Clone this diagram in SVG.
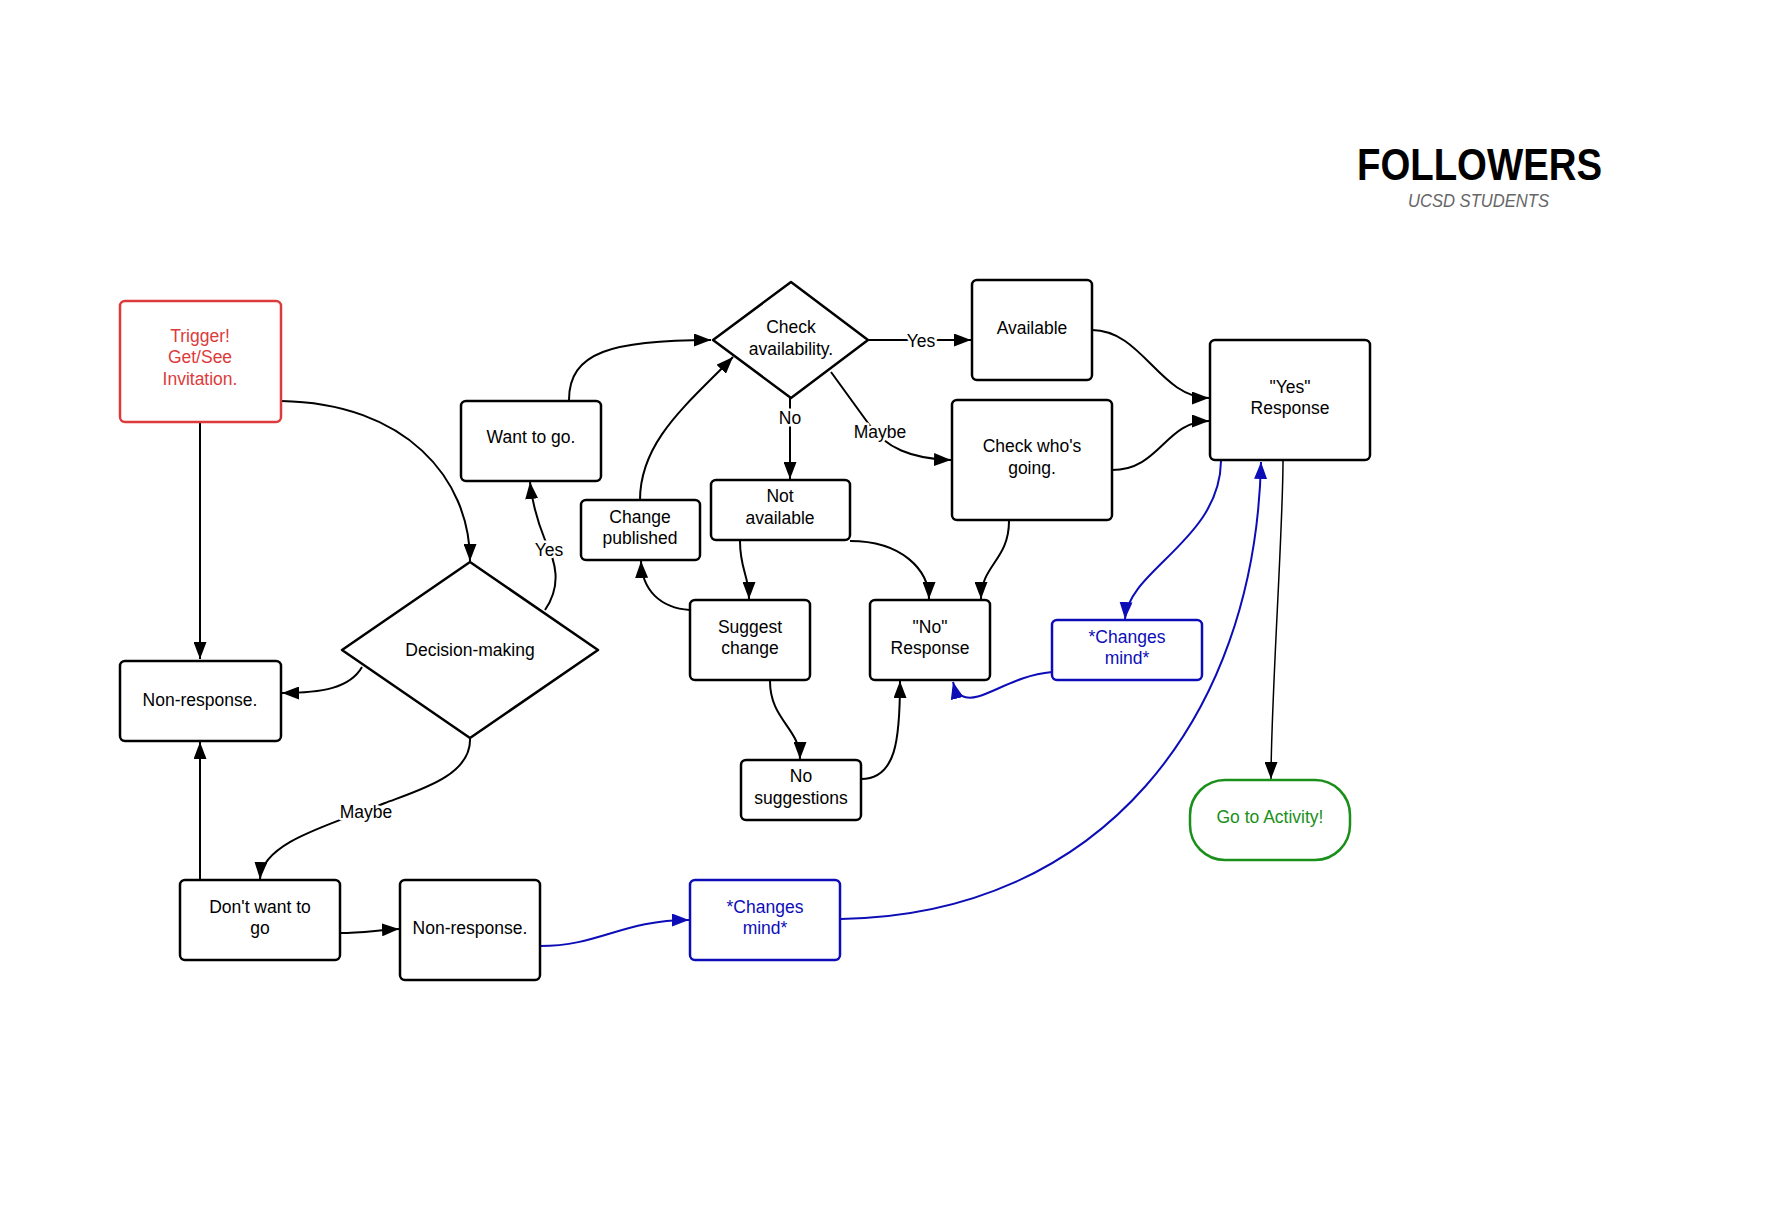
<svg xmlns="http://www.w3.org/2000/svg" width="1785" height="1227" viewBox="0 0 1785 1227">
<style>
.box{fill:#fff;stroke:#000;stroke-width:2.5}
.red{fill:#fff;stroke:#dd3b3b;stroke-width:2.5}
.blue{fill:#fff;stroke:#0d0db8;stroke-width:2.5}
.green{fill:#fff;stroke:#1a8f1a;stroke-width:2.5}
text{font-family:"Liberation Sans",Arial,sans-serif;font-size:17.5px;text-anchor:middle;fill:#000}
.tr{fill:#dd3b3b}
.tb{fill:#0d0db8}
.tg{fill:#1a8f1a}
.c{fill:none;stroke:#000;stroke-width:2}
.cb{fill:none;stroke:#0d0db8;stroke-width:2}
.lbl{paint-order:stroke;stroke:#fff;stroke-width:5px;stroke-linejoin:round}
</style>
<defs>
<marker id="a" markerUnits="userSpaceOnUse" markerWidth="18" markerHeight="13" refX="17" refY="6.5" orient="auto"><path d="M0,0 L17,6.5 L0,13 z" fill="#000"/></marker>
<marker id="ab" markerUnits="userSpaceOnUse" markerWidth="18" markerHeight="13" refX="17" refY="6.5" orient="auto"><path d="M0,0 L17,6.5 L0,13 z" fill="#0d0db8"/></marker>
</defs>
<rect width="1785" height="1227" fill="#fff"/>
<g id="title">
<text x="1357" y="180" style="text-anchor:start;font-size:44px;font-weight:bold" textLength="245" lengthAdjust="spacingAndGlyphs">FOLLOWERS</text>
<text x="1408" y="207" style="text-anchor:start;font-size:18px;fill:#666;font-style:italic" textLength="141" lengthAdjust="spacingAndGlyphs">UCSD STUDENTS</text>
</g>
<g id="connectors">
<path class="c" d="M200,422 L200,659" marker-end="url(#a)"/>
<path class="c" d="M281,401 C405,403 470,478 470,561" marker-end="url(#a)"/>
<path class="c" d="M362,667 C350,688 322,693 282,693" marker-end="url(#a)"/>
<path class="c" d="M545,610 C562,585 556,562 545,540 C537,520 532,502 530,482" marker-end="url(#a)"/>
<text class="lbl" x="549" y="556">Yes</text>
<path class="c" d="M470,738 C472,775 420,790 385,803 C330,825 262,842 260,879" marker-end="url(#a)"/>
<text class="lbl" x="366" y="818">Maybe</text>
<path class="c" d="M200,880 L200,742" marker-end="url(#a)"/>
<path class="c" d="M340,933 C362,933 378,930 399,929" marker-end="url(#a)"/>
<path class="c" d="M569,400 C569,352 612,340 711,340" marker-end="url(#a)"/>
<path class="c" d="M640,500 C640,440 690,402 733,357" marker-end="url(#a)"/>
<path class="c" d="M868,340 L971,340" marker-end="url(#a)"/>
<text class="lbl" x="921" y="347">Yes</text>
<path class="c" d="M790,398 L790,479" marker-end="url(#a)"/>
<text class="lbl" x="790" y="424">No</text>
<path class="c" d="M831,372 L868,423 C885,448 912,459 951,460" marker-end="url(#a)"/>
<text class="lbl" x="880" y="438">Maybe</text>
<path class="c" d="M1092,330 C1142,330 1160,398 1209,398" marker-end="url(#a)"/>
<path class="c" d="M1112,470 C1160,470 1165,421 1209,421" marker-end="url(#a)"/>
<path class="c" d="M690,610 C660,608 642,590 641,561" marker-end="url(#a)"/>
<path class="c" d="M740,541 C740,570 749,575 749,599" marker-end="url(#a)"/>
<path class="c" d="M850,541 C902,541 929,570 929,599" marker-end="url(#a)"/>
<path class="c" d="M1009,521 C1009,560 981,565 981,599" marker-end="url(#a)"/>
<path class="c" d="M770,681 C770,720 800,728 800,759" marker-end="url(#a)"/>
<path class="c" d="M861,779 C896,779 900,740 900,681" marker-end="url(#a)"/>
<path class="c" style="stroke-width:1.5" d="M1283,461 C1283,530 1271,700 1271,779" marker-end="url(#a)"/>
<path class="cb" d="M1052,672 C1008,676 980,705 962,696 C958,694 955,690 953,682" marker-end="url(#ab)"/>
<path class="cb" d="M1221,461 C1220,540 1128,570 1125,619" marker-end="url(#ab)"/>
<path class="cb" d="M540,946 C600,946 622,920 689,920" marker-end="url(#ab)"/>
<path class="cb" d="M841,919 C1100,915 1255,720 1261,462" marker-end="url(#ab)"/>
</g>
<g id="trigger"><rect class="red" x="120" y="301" width="161" height="121" rx="5"/>
<text class="tr" x="200" y="342">Trigger!</text><text class="tr" x="200" y="363">Get/See</text><text class="tr" x="200" y="385">Invitation.</text></g>
<g id="nonresponse1"><rect class="box" x="120" y="661" width="161" height="80" rx="5"/><text x="200" y="706">Non-response.</text></g>
<g id="decision"><path class="box" d="M470,562 L598,650 L470,738 L342,650 Z" stroke-linejoin="round"/><text x="470" y="656">Decision-making</text></g>
<g id="want"><rect class="box" x="461" y="401" width="140" height="80" rx="5"/><text x="531" y="443">Want to go.</text></g>
<g id="checkavail"><path class="box" d="M791,282 L868,340 L791,398 L713,340 Z" stroke-linejoin="round"/><text x="791" y="333">Check</text><text x="791" y="355">availability.</text></g>
<g id="available"><rect class="box" x="972" y="280" width="120" height="100" rx="5"/><text x="1032" y="334">Available</text></g>
<g id="checkwho"><rect class="box" x="952" y="400" width="160" height="120" rx="5"/><text x="1032" y="452">Check who's</text><text x="1032" y="474">going.</text></g>
<g id="yesresponse"><rect class="box" x="1210" y="340" width="160" height="120" rx="5"/><text x="1290" y="393">"Yes"</text><text x="1290" y="414">Response</text></g>
<g id="notavailable"><rect class="box" x="711" y="480" width="139" height="60" rx="5"/><text x="780" y="502">Not</text><text x="780" y="524">available</text></g>
<g id="changepublished"><rect class="box" x="581" y="500" width="119" height="60" rx="5"/><text x="640" y="523">Change</text><text x="640" y="544">published</text></g>
<g id="suggest"><rect class="box" x="690" y="600" width="120" height="80" rx="5"/><text x="750" y="633">Suggest</text><text x="750" y="654">change</text></g>
<g id="noresponse"><rect class="box" x="870" y="600" width="120" height="80" rx="5"/><text x="930" y="633">"No"</text><text x="930" y="654">Response</text></g>
<g id="changesmind1"><rect class="blue" x="1052" y="620" width="150" height="60" rx="5"/><text class="tb" x="1127" y="643">*Changes</text><text class="tb" x="1127" y="664">mind*</text></g>
<g id="nosuggestions"><rect class="box" x="741" y="760" width="120" height="60" rx="5"/><text x="801" y="782">No</text><text x="801" y="804">suggestions</text></g>
<g id="goactivity"><rect class="green" x="1190" y="780" width="160" height="80" rx="35"/><text class="tg" x="1270" y="823">Go to Activity!</text></g>
<g id="dontwant"><rect class="box" x="180" y="880" width="160" height="80" rx="5"/><text x="260" y="913">Don't want to</text><text x="260" y="934">go</text></g>
<g id="nonresponse2"><rect class="box" x="400" y="880" width="140" height="100" rx="5"/><text x="470" y="934">Non-response.</text></g>
<g id="changesmind2"><rect class="blue" x="690" y="880" width="150" height="80" rx="5"/><text class="tb" x="765" y="913">*Changes</text><text class="tb" x="765" y="934">mind*</text></g>
</svg>
